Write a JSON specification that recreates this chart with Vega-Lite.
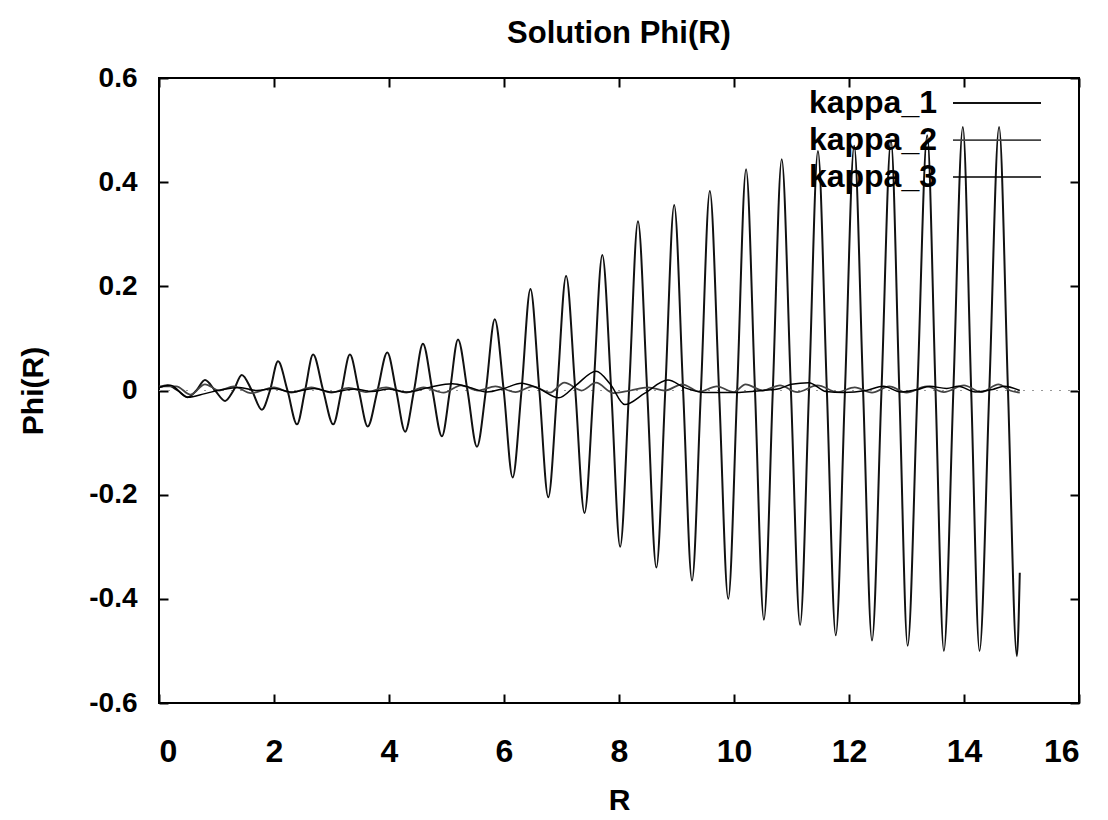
{
  "$schema": "https://vega.github.io/schema/vega-lite/v6.json",
  "width": 920,
  "height": 625,
  "autosize": {"type": "none"},
  "padding": {"left": 159, "top": 78, "right": 29, "bottom": 117},
  "background": "#ffffff",
  "config": {
    "view": {"stroke": "#000000", "strokeWidth": 2},
    "font": "Liberation Sans",
    "axis": {"grid": false, "domain": false, "tickColor": "#000", "tickWidth": 2, "tickSize": -9,
             "labelFont": "Liberation Sans", "labelFontWeight": "bold", "labelColor": "#000",
             "titleFont": "Liberation Sans", "titleFontWeight": "bold", "titleColor": "#000", "titleFontSize": 30}
  },
  "title": {"text": "Solution Phi(R)", "fontSize": 31, "font": "Liberation Sans", "fontWeight": "bold", "color": "#000", "offset": 14, "anchor": "middle"},
  "data": {"values": [
    {"s":"kappa_1","R":0,"Phi":0.006},{"s":"kappa_1","R":0.15,"Phi":0.01},{"s":"kappa_1","R":0.325,"Phi":0},{"s":"kappa_1","R":0.5,"Phi":-0.013},
    {"s":"kappa_1","R":0.65,"Phi":0},{"s":"kappa_1","R":0.8,"Phi":0.02},{"s":"kappa_1","R":0.975,"Phi":0},{"s":"kappa_1","R":1.15,"Phi":-0.02},
    {"s":"kappa_1","R":1.295,"Phi":0},{"s":"kappa_1","R":1.44,"Phi":0.03},{"s":"kappa_1","R":1.615,"Phi":0},{"s":"kappa_1","R":1.79,"Phi":-0.037},
    {"s":"kappa_1","R":1.93,"Phi":0},{"s":"kappa_1","R":2.07,"Phi":0.056},{"s":"kappa_1","R":2.235,"Phi":0},{"s":"kappa_1","R":2.4,"Phi":-0.065},
    {"s":"kappa_1","R":2.54,"Phi":0},{"s":"kappa_1","R":2.68,"Phi":0.069},{"s":"kappa_1","R":2.855,"Phi":0},{"s":"kappa_1","R":3.03,"Phi":-0.065},
    {"s":"kappa_1","R":3.175,"Phi":0},{"s":"kappa_1","R":3.32,"Phi":0.069},{"s":"kappa_1","R":3.475,"Phi":0},{"s":"kappa_1","R":3.63,"Phi":-0.069},
    {"s":"kappa_1","R":3.8,"Phi":0},{"s":"kappa_1","R":3.97,"Phi":0.073},{"s":"kappa_1","R":4.125,"Phi":0},{"s":"kappa_1","R":4.28,"Phi":-0.079},
    {"s":"kappa_1","R":4.435,"Phi":0},{"s":"kappa_1","R":4.59,"Phi":0.09},{"s":"kappa_1","R":4.755,"Phi":0},{"s":"kappa_1","R":4.92,"Phi":-0.088},
    {"s":"kappa_1","R":5.06,"Phi":0},{"s":"kappa_1","R":5.2,"Phi":0.098},{"s":"kappa_1","R":5.365,"Phi":0},{"s":"kappa_1","R":5.53,"Phi":-0.108},
    {"s":"kappa_1","R":5.685,"Phi":0},{"s":"kappa_1","R":5.84,"Phi":0.137},{"s":"kappa_1","R":5.995,"Phi":0},{"s":"kappa_1","R":6.15,"Phi":-0.167},
    {"s":"kappa_1","R":6.305,"Phi":0},{"s":"kappa_1","R":6.46,"Phi":0.195},{"s":"kappa_1","R":6.615,"Phi":0},{"s":"kappa_1","R":6.77,"Phi":-0.205},
    {"s":"kappa_1","R":6.925,"Phi":0},{"s":"kappa_1","R":7.08,"Phi":0.22},{"s":"kappa_1","R":7.24,"Phi":0},{"s":"kappa_1","R":7.4,"Phi":-0.235},
    {"s":"kappa_1","R":7.555,"Phi":0},{"s":"kappa_1","R":7.71,"Phi":0.26},{"s":"kappa_1","R":7.865,"Phi":0},{"s":"kappa_1","R":8.02,"Phi":-0.3},
    {"s":"kappa_1","R":8.175,"Phi":0},{"s":"kappa_1","R":8.33,"Phi":0.325},{"s":"kappa_1","R":8.49,"Phi":0},{"s":"kappa_1","R":8.65,"Phi":-0.34},
    {"s":"kappa_1","R":8.805,"Phi":0},{"s":"kappa_1","R":8.96,"Phi":0.356},{"s":"kappa_1","R":9.115,"Phi":0},{"s":"kappa_1","R":9.27,"Phi":-0.365},
    {"s":"kappa_1","R":9.425,"Phi":0},{"s":"kappa_1","R":9.58,"Phi":0.383},{"s":"kappa_1","R":9.74,"Phi":0},{"s":"kappa_1","R":9.9,"Phi":-0.4},
    {"s":"kappa_1","R":10.055,"Phi":0},{"s":"kappa_1","R":10.21,"Phi":0.425},{"s":"kappa_1","R":10.365,"Phi":0},{"s":"kappa_1","R":10.52,"Phi":-0.44},
    {"s":"kappa_1","R":10.675,"Phi":0},{"s":"kappa_1","R":10.83,"Phi":0.444},{"s":"kappa_1","R":10.99,"Phi":0},{"s":"kappa_1","R":11.15,"Phi":-0.45},
    {"s":"kappa_1","R":11.305,"Phi":0},{"s":"kappa_1","R":11.46,"Phi":0.46},{"s":"kappa_1","R":11.615,"Phi":0},{"s":"kappa_1","R":11.77,"Phi":-0.47},
    {"s":"kappa_1","R":11.93,"Phi":0},{"s":"kappa_1","R":12.09,"Phi":0.47},{"s":"kappa_1","R":12.245,"Phi":0},{"s":"kappa_1","R":12.4,"Phi":-0.48},
    {"s":"kappa_1","R":12.565,"Phi":0},{"s":"kappa_1","R":12.73,"Phi":0.48},{"s":"kappa_1","R":12.875,"Phi":0},{"s":"kappa_1","R":13.02,"Phi":-0.49},
    {"s":"kappa_1","R":13.19,"Phi":0},{"s":"kappa_1","R":13.36,"Phi":0.49},{"s":"kappa_1","R":13.505,"Phi":0},{"s":"kappa_1","R":13.65,"Phi":-0.5},
    {"s":"kappa_1","R":13.815,"Phi":0},{"s":"kappa_1","R":13.98,"Phi":0.506},{"s":"kappa_1","R":14.125,"Phi":0},{"s":"kappa_1","R":14.27,"Phi":-0.5},
    {"s":"kappa_1","R":14.44,"Phi":0},{"s":"kappa_1","R":14.61,"Phi":0.506},{"s":"kappa_1","R":14.765,"Phi":0},{"s":"kappa_1","R":14.92,"Phi":-0.51},
    {"s":"kappa_1","R":14.97,"Phi":-0.35},

    {"s":"kappa_2","R":0,"Phi":0.008},{"s":"kappa_2","R":0.3,"Phi":0.008},{"s":"kappa_2","R":0.55,"Phi":-0.008},{"s":"kappa_2","R":0.8,"Phi":0.012},
    {"s":"kappa_2","R":1.05,"Phi":0},{"s":"kappa_2","R":1.3,"Phi":0.008},{"s":"kappa_2","R":1.6,"Phi":-0.005},{"s":"kappa_2","R":2.0,"Phi":0.006},
    {"s":"kappa_2","R":2.3,"Phi":-0.004},{"s":"kappa_2","R":2.65,"Phi":0.006},{"s":"kappa_2","R":3.0,"Phi":-0.004},{"s":"kappa_2","R":3.3,"Phi":0.005},
    {"s":"kappa_2","R":3.6,"Phi":-0.003},{"s":"kappa_2","R":3.95,"Phi":0.006},{"s":"kappa_2","R":4.3,"Phi":-0.004},{"s":"kappa_2","R":4.6,"Phi":0.006},
    {"s":"kappa_2","R":4.95,"Phi":-0.004},{"s":"kappa_2","R":5.25,"Phi":0.01},{"s":"kappa_2","R":5.55,"Phi":0},{"s":"kappa_2","R":5.85,"Phi":0.008},
    {"s":"kappa_2","R":6.2,"Phi":-0.003},{"s":"kappa_2","R":6.5,"Phi":0.008},{"s":"kappa_2","R":6.8,"Phi":-0.004},{"s":"kappa_2","R":7.05,"Phi":0.015},
    {"s":"kappa_2","R":7.35,"Phi":0},{"s":"kappa_2","R":7.6,"Phi":0.015},{"s":"kappa_2","R":7.9,"Phi":-0.005},{"s":"kappa_2","R":8.2,"Phi":0},
    {"s":"kappa_2","R":8.5,"Phi":0.006},{"s":"kappa_2","R":8.8,"Phi":0},{"s":"kappa_2","R":9.1,"Phi":0.012},{"s":"kappa_2","R":9.4,"Phi":-0.002},
    {"s":"kappa_2","R":9.7,"Phi":0.008},{"s":"kappa_2","R":10.0,"Phi":-0.003},{"s":"kappa_2","R":10.2,"Phi":0.012},{"s":"kappa_2","R":10.5,"Phi":0},
    {"s":"kappa_2","R":10.8,"Phi":0.01},{"s":"kappa_2","R":11.1,"Phi":-0.003},{"s":"kappa_2","R":11.45,"Phi":0.01},{"s":"kappa_2","R":11.8,"Phi":-0.003},
    {"s":"kappa_2","R":12.1,"Phi":0.006},{"s":"kappa_2","R":12.4,"Phi":-0.004},{"s":"kappa_2","R":12.7,"Phi":0.008},{"s":"kappa_2","R":13.0,"Phi":-0.004},
    {"s":"kappa_2","R":13.35,"Phi":0.008},{"s":"kappa_2","R":13.65,"Phi":-0.003},{"s":"kappa_2","R":14.0,"Phi":0.01},{"s":"kappa_2","R":14.3,"Phi":-0.003},
    {"s":"kappa_2","R":14.6,"Phi":0.012},{"s":"kappa_2","R":14.8,"Phi":0},{"s":"kappa_2","R":14.97,"Phi":-0.004},

    {"s":"kappa_3","R":0,"Phi":0.006},{"s":"kappa_3","R":0.2,"Phi":0.01},{"s":"kappa_3","R":0.5,"Phi":-0.013},{"s":"kappa_3","R":0.8,"Phi":-0.006},
    {"s":"kappa_3","R":1.1,"Phi":0.002},{"s":"kappa_3","R":1.4,"Phi":0.006},{"s":"kappa_3","R":1.7,"Phi":0},{"s":"kappa_3","R":2.0,"Phi":0.004},
    {"s":"kappa_3","R":2.3,"Phi":-0.003},{"s":"kappa_3","R":2.7,"Phi":0.004},{"s":"kappa_3","R":3.0,"Phi":-0.003},{"s":"kappa_3","R":3.4,"Phi":0.003},
    {"s":"kappa_3","R":3.7,"Phi":-0.002},{"s":"kappa_3","R":4.0,"Phi":0.003},{"s":"kappa_3","R":4.3,"Phi":-0.003},{"s":"kappa_3","R":4.7,"Phi":0.006},
    {"s":"kappa_3","R":5.1,"Phi":0.013},{"s":"kappa_3","R":5.4,"Phi":0.006},{"s":"kappa_3","R":5.7,"Phi":-0.003},{"s":"kappa_3","R":6.0,"Phi":0.004},
    {"s":"kappa_3","R":6.3,"Phi":0.014},{"s":"kappa_3","R":6.6,"Phi":0.004},{"s":"kappa_3","R":6.95,"Phi":-0.014},{"s":"kappa_3","R":7.25,"Phi":0.01},
    {"s":"kappa_3","R":7.6,"Phi":0.037},{"s":"kappa_3","R":7.85,"Phi":0.012},{"s":"kappa_3","R":8.1,"Phi":-0.027},{"s":"kappa_3","R":8.45,"Phi":-0.005},
    {"s":"kappa_3","R":8.85,"Phi":0.02},{"s":"kappa_3","R":9.15,"Phi":0.005},{"s":"kappa_3","R":9.5,"Phi":-0.004},{"s":"kappa_3","R":10.0,"Phi":-0.004},
    {"s":"kappa_3","R":10.5,"Phi":0},{"s":"kappa_3","R":10.8,"Phi":0.004},{"s":"kappa_3","R":11.0,"Phi":0.012},{"s":"kappa_3","R":11.3,"Phi":0.015},
    {"s":"kappa_3","R":11.6,"Phi":-0.002},{"s":"kappa_3","R":11.9,"Phi":-0.004},{"s":"kappa_3","R":12.3,"Phi":0},{"s":"kappa_3","R":12.6,"Phi":0.008},
    {"s":"kappa_3","R":12.9,"Phi":-0.003},{"s":"kappa_3","R":13.2,"Phi":0.002},{"s":"kappa_3","R":13.4,"Phi":0.008},{"s":"kappa_3","R":13.7,"Phi":0.004},
    {"s":"kappa_3","R":13.9,"Phi":0.008},{"s":"kappa_3","R":14.2,"Phi":-0.003},{"s":"kappa_3","R":14.5,"Phi":0.002},{"s":"kappa_3","R":14.7,"Phi":0.008},
    {"s":"kappa_3","R":14.97,"Phi":0}
  ]},
  "layer": [
    {
      "mark": {"type": "rule", "strokeDash": [2, 7], "color": "#999999", "strokeWidth": 1},
      "encoding": {
        "x": {"datum": 0, "type": "quantitative", "scale": {"domain": [0, 16]},
              "axis": {"orient": "top", "labels": false, "title": null, "values": [0, 2, 4, 6, 8, 10, 12, 14, 16]}},
        "x2": {"datum": 16},
        "y": {"datum": 0, "type": "quantitative", "scale": {"domain": [-0.6, 0.6]},
              "axis": {"orient": "right", "labels": false, "title": null, "values": [-0.6, -0.4, -0.2, 0, 0.2, 0.4, 0.6]}}
      }
    },
    {
      "mark": {"type": "line", "interpolate": "monotone"},
      "encoding": {
        "x": {"field": "R", "type": "quantitative", "scale": {"domain": [0, 16]},
              "axis": {"orient": "bottom", "title": "R", "values": [0, 2, 4, 6, 8, 10, 12, 14, 16],
                       "labelFontSize": 32, "labelPadding": 42, "titlePadding": 18}},
        "y": {"field": "Phi", "type": "quantitative", "scale": {"domain": [-0.6, 0.6]},
              "axis": {"orient": "left", "title": "Phi(R)", "values": [-0.6, -0.4, -0.2, 0, 0.2, 0.4, 0.6],
                       "labelFontSize": 28, "labelPadding": 31, "titlePadding": 40,
                       "labelExpr": "datum.value == 0 ? '0' : (datum.value < 0 ? '-' + format(-datum.value, '.1f') : format(datum.value, '.1f'))"}},
        "color": {"field": "s", "type": "nominal",
                  "scale": {"domain": ["kappa_1", "kappa_2", "kappa_3"], "range": ["#111111", "#444444", "#000000"]},
                  "legend": {"orient": "none", "legendX": 793, "legendY": 8, "title": null,
                             "symbolType": "M-1,0H4.5", "symbolSize": 1024, "symbolStrokeWidth": 2, "symbolFillColor": "transparent",
                             "labelFont": "Liberation Sans", "labelFontSize": 32, "labelFontWeight": "bold",
                             "labelColor": "#000", "labelAlign": "right", "labelOffset": -49, "rowPadding": 4, "labelLimit": 0}},
        "strokeWidth": {"field": "s", "type": "nominal", "scale": {"domain": ["kappa_1", "kappa_2", "kappa_3"], "range": [2, 1.5, 3.6]}, "legend": null}
      }
    }
  ]
}
